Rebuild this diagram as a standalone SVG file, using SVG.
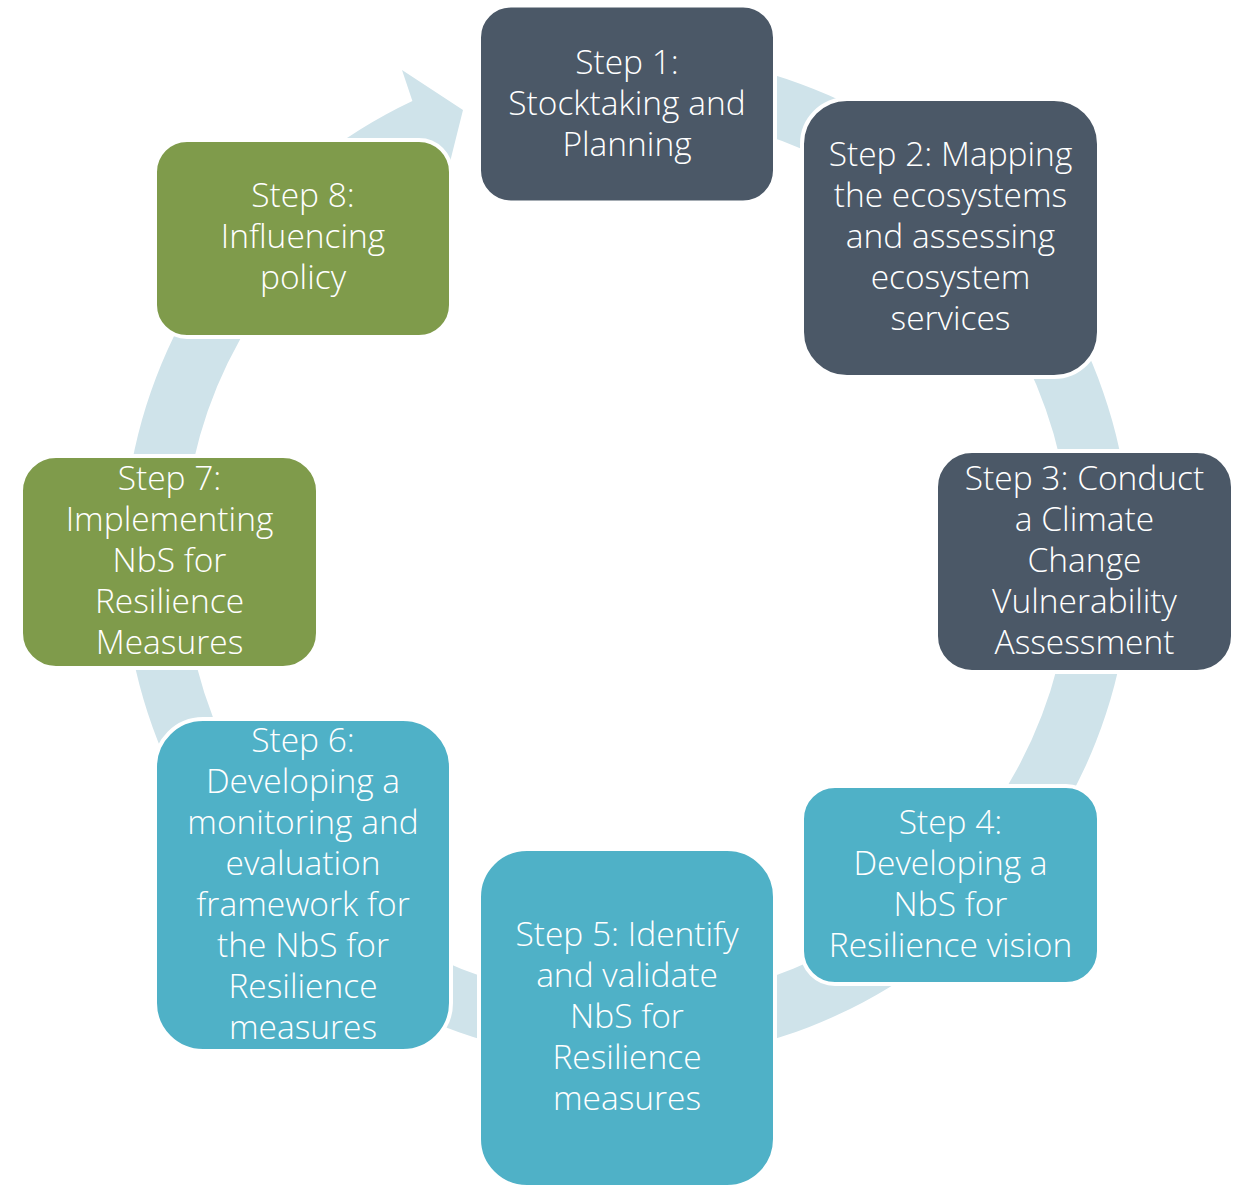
<svg xmlns="http://www.w3.org/2000/svg" width="1245" height="1186" viewBox="0 0 1245 1186">
<style>
.box{stroke:#ffffff;stroke-width:4}
.dark{fill:#4B5867}
.teal{fill:#4FB1C7}
.green{fill:#7F9B4B}
.t{font-family:"Open Sans","Liberation Sans",sans-serif;font-weight:300;font-size:33.5px;fill:#ffffff;text-anchor:middle}
</style>
<rect width="1245" height="1186" fill="#ffffff"/>
<g id="connectors">
<path id="cycle-arrow" fill="#CFE3EA" d="M714.5,60.7 A504,504 0 1 1 412.4,101 L402,70 L463,110 L438,210 L425.4,161.4 A444,444 0 1 0 704.1,119.7 Z"/>
</g>
<g id="step1"><rect class="box dark" x="479" y="5.5" width="296" height="197" rx="32"/>
<text class="t"><tspan x="627" y="74">Step 1:</tspan><tspan x="627" y="115">Stocktaking and</tspan><tspan x="627" y="156">Planning</tspan></text></g>
<g id="step2"><rect class="box dark" x="802" y="99" width="297" height="278" rx="45"/>
<text class="t"><tspan x="950.5" y="166">Step 2: Mapping</tspan><tspan x="950.5" y="207">the ecosystems</tspan><tspan x="950.5" y="248">and assessing</tspan><tspan x="950.5" y="289">ecosystem</tspan><tspan x="950.5" y="330">services</tspan></text></g>
<g id="step3"><rect class="box dark" x="936" y="451" width="297" height="221" rx="36"/>
<text class="t"><tspan x="1084.5" y="490">Step 3: Conduct</tspan><tspan x="1084.5" y="531">a Climate</tspan><tspan x="1084.5" y="572">Change</tspan><tspan x="1084.5" y="613">Vulnerability</tspan><tspan x="1084.5" y="654">Assessment</tspan></text></g>
<g id="step4"><rect class="box teal" x="802" y="786" width="297" height="198" rx="33"/>
<text class="t"><tspan x="950.5" y="833.5">Step 4:</tspan><tspan x="950.5" y="874.5">Developing a</tspan><tspan x="950.5" y="915.5">NbS for</tspan><tspan x="950.5" y="956.5">Resilience vision</tspan></text></g>
<g id="step5"><rect class="box teal" x="479" y="849" width="296" height="338" rx="48"/>
<text class="t"><tspan x="627" y="946">Step 5: Identify</tspan><tspan x="627" y="987">and validate</tspan><tspan x="627" y="1028">NbS for</tspan><tspan x="627" y="1069">Resilience</tspan><tspan x="627" y="1110">measures</tspan></text></g>
<g id="step6"><rect class="box teal" x="155" y="719" width="296" height="332" rx="48"/>
<text class="t"><tspan x="303" y="751.5">Step 6:</tspan><tspan x="303" y="792.5">Developing a</tspan><tspan x="303" y="833.5">monitoring and</tspan><tspan x="303" y="874.5">evaluation</tspan><tspan x="303" y="915.5">framework for</tspan><tspan x="303" y="956.5">the NbS for</tspan><tspan x="303" y="997.5">Resilience</tspan><tspan x="303" y="1038.5">measures</tspan></text></g>
<g id="step7"><rect class="box green" x="21" y="456" width="297" height="212" rx="35"/>
<text class="t"><tspan x="169.5" y="490">Step 7:</tspan><tspan x="169.5" y="531">Implementing</tspan><tspan x="169.5" y="572">NbS for</tspan><tspan x="169.5" y="613">Resilience</tspan><tspan x="169.5" y="654">Measures</tspan></text></g>
<g id="step8"><rect class="box green" x="155" y="140" width="296" height="197" rx="32"/>
<text class="t"><tspan x="303" y="207">Step 8:</tspan><tspan x="303" y="248">Influencing</tspan><tspan x="303" y="289">policy</tspan></text></g>
</svg>
